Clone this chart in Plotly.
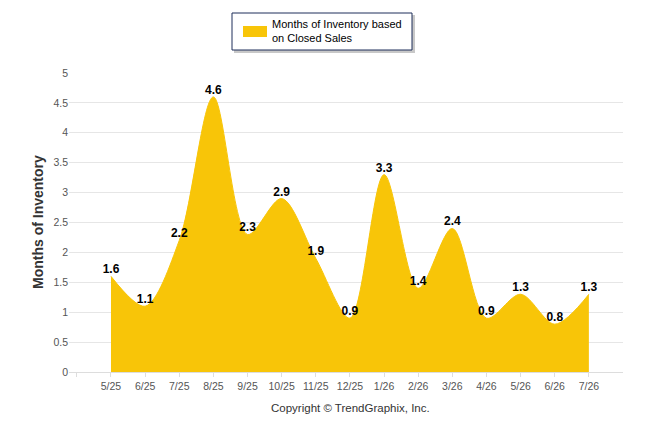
"""Months of Inventory area chart (TrendGraphix style)."""

import plotly.graph_objects as go

months = ["5/25", "6/25", "7/25", "8/25", "9/25", "10/25", "11/25", "12/25",
          "1/26", "2/26", "3/26", "4/26", "5/26", "6/26", "7/26"]
inventory = [1.6, 1.1, 2.2, 4.6, 2.3, 2.9, 1.9, 0.9, 3.3, 1.4, 2.4, 0.9, 1.3, 0.8, 1.3]
y_ticks = [0, 0.5, 1, 1.5, 2, 2.5, 3, 3.5, 4, 4.5, 5]
legend_label = "Months of Inventory based<br>on Closed Sales"

FILL = "#F8C508"
W, H = 646, 434
L, R, T, B = 69, 23, 73, 62
PW, PH = W - L - R, H - T - B
idx = list(range(len(months)))


def px(x):
    return (x - L) / PW


def py(y):
    return (H - B - y) / PH


fig = go.Figure()

# 面积图 + 数据标签
fig.add_trace(
    go.Scatter(
        x=idx,
        y=inventory,
        mode="lines+text",
        line=dict(shape="spline", smoothing=0.9, color=FILL, width=1),
        fill="tozeroy",
        fillcolor=FILL,
        text=[f"{v:g}" for v in inventory],
        textposition="top center",
        textfont=dict(family="Liberation Sans, Arial", size=12, color="#000000"),
        texttemplate="<b>%{text}</b>",
        name=legend_label,
        hoverinfo="x+y",
        showlegend=False,
    )
)

# 手绘图例：阴影、边框、色块
shapes = [
    dict(type="rect", xref="paper", yref="paper",
         x0=px(234), x1=px(415), y0=py(53), y1=py(15),
         fillcolor="#9a9a9a", line=dict(width=0), opacity=0.55),
    dict(type="rect", xref="paper", yref="paper",
         x0=px(232), x1=px(412), y0=py(50), y1=py(13),
         fillcolor="white", line=dict(color="#1f2f5a", width=1)),
    dict(type="rect", xref="paper", yref="paper",
         x0=px(243), x1=px(267), y0=py(37), y1=py(26),
         fillcolor=FILL, line=dict(width=0)),
]

fig.update_layout(
    width=W,
    height=H,
    margin=dict(l=L, r=R, t=T, b=B),
    paper_bgcolor="white",
    plot_bgcolor="white",
    font=dict(family="Liberation Sans, Arial", color="#333333"),
    showlegend=False,
    shapes=shapes,
    annotations=[
        dict(text=legend_label, xref="paper", yref="paper",
             x=px(270), y=py(31), xanchor="left", yanchor="middle", align="left",
             showarrow=False, font=dict(size=11, color="#000000")),
        dict(text="<b>Months of Inventory</b>", xref="paper", yref="paper",
             x=px(38), y=py(222), xanchor="center", yanchor="middle", textangle=-90,
             showarrow=False, font=dict(size=14, color="#333333")),
        dict(text="Copyright © TrendGraphix, Inc.", xref="paper", yref="paper",
             x=px(350), y=py(408), xanchor="center", yanchor="middle",
             showarrow=False, font=dict(size=11.5, color="#333333")),
    ],
)

fig.update_xaxes(
    range=[-1.23, 15.0],
    tickvals=[-1] + idx,
    ticktext=[""] + months,
    ticks="outside",
    ticklen=4,
    tickcolor="#dddddd",
    showline=True,
    linecolor="#dddddd",
    showgrid=False,
    zeroline=False,
    tickfont=dict(size=10.5, color="#555555"),
)
fig.update_yaxes(
    range=[0, 5],
    tickvals=y_ticks,
    ticktext=[f"{v:g}" for v in y_ticks],
    gridcolor="#e6e6e6",
    zeroline=False,
    tickfont=dict(size=10.5, color="#555555"),
)

fig.write_html(
    "out.html",
    config={"displayModeBar": False},
    post_script="document.body.style.margin='0';",
)
